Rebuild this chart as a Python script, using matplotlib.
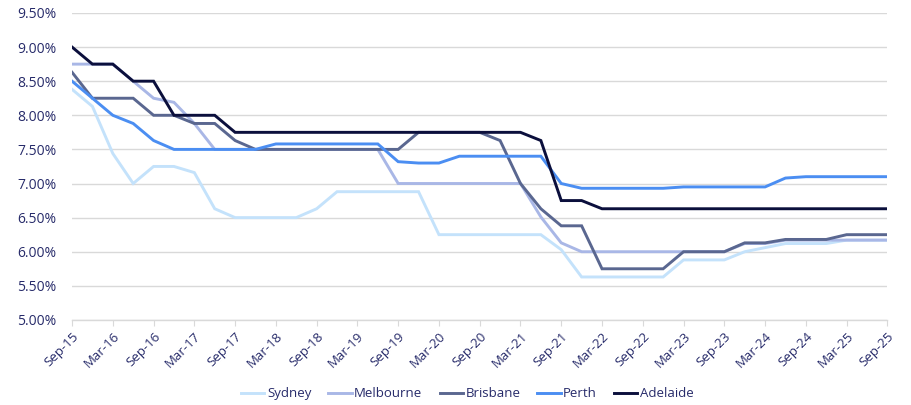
import numpy as np
from matplotlib import pyplot as plt
from matplotlib.ticker import FuncFormatter

# Quarterly rates, Sep-15 through Sep-25 (41 quarters)
sydney = [8.38, 8.13, 7.44, 7.00, 7.25, 7.25, 7.16, 6.63, 6.50, 6.50,
		  6.50, 6.50, 6.63, 6.88, 6.88, 6.88, 6.88, 6.88, 6.25, 6.25,
		  6.25, 6.25, 6.25, 6.25, 6.03, 5.63, 5.63, 5.63, 5.63, 5.63,
		  5.88, 5.88, 5.88, 6.00, 6.06, 6.12, 6.12, 6.12, 6.17, 6.17, 6.17]
melbourne = [8.75, 8.75, 8.75, 8.50, 8.25, 8.19, 7.88, 7.50, 7.50, 7.50,
			 7.50, 7.50, 7.50, 7.50, 7.50, 7.50, 7.00, 7.00, 7.00, 7.00,
			 7.00, 7.00, 7.00, 6.51, 6.13, 6.00, 6.00, 6.00, 6.00, 6.00,
			 6.00, 6.00, 6.00, 6.12, 6.12, 6.17, 6.17, 6.17, 6.17, 6.17, 6.17]
brisbane = [8.63, 8.25, 8.25, 8.25, 8.00, 8.00, 7.88, 7.88, 7.63, 7.50,
			7.50, 7.50, 7.50, 7.50, 7.50, 7.50, 7.50, 7.75, 7.75, 7.75,
			7.75, 7.63, 7.00, 6.63, 6.38, 6.38, 5.75, 5.75, 5.75, 5.75,
			6.00, 6.00, 6.00, 6.13, 6.13, 6.18, 6.18, 6.18, 6.25, 6.25, 6.25]
perth = [8.50, 8.25, 8.00, 7.88, 7.63, 7.50, 7.50, 7.50, 7.50, 7.50,
		 7.58, 7.58, 7.58, 7.58, 7.58, 7.58, 7.32, 7.30, 7.30, 7.40,
		 7.40, 7.40, 7.40, 7.40, 7.00, 6.93, 6.93, 6.93, 6.93, 6.93,
		 6.95, 6.95, 6.95, 6.95, 6.95, 7.08, 7.10, 7.10, 7.10, 7.10, 7.10]
adelaide = [9.00, 8.75, 8.75, 8.50, 8.50, 8.00, 8.00, 8.00, 7.75, 7.75,
			7.75, 7.75, 7.75, 7.75, 7.75, 7.75, 7.75, 7.75, 7.75, 7.75,
			7.75, 7.75, 7.75, 7.63, 6.75, 6.75, 6.63, 6.63, 6.63, 6.63,
			6.63, 6.63, 6.63, 6.63, 6.63, 6.63, 6.63, 6.63, 6.63, 6.63, 6.63]

tick_labels = ['Sep-15', 'Mar-16', 'Sep-16', 'Mar-17', 'Sep-17', 'Mar-18',
			   'Sep-18', 'Mar-19', 'Sep-19', 'Mar-20', 'Sep-20', 'Mar-21',
			   'Sep-21', 'Mar-22', 'Sep-22', 'Mar-23', 'Sep-23', 'Mar-24',
			   'Sep-24', 'Mar-25', 'Sep-25']

cities = ['Sydney', 'Melbourne', 'Brisbane', 'Perth', 'Adelaide']
colours = ['#C4E2FB', '#A9B7E6', '#5A6790', '#4B8EF2', '#0B0F3C']
text_col = '#272B6A'

plt.rcParams['font.family'] = ['Open Sans', 'DejaVu Sans']

fig = plt.figure(figsize=(9.12, 4.05), dpi=100)
ax = fig.add_axes([0.079, 0.21, 0.894, 0.758])

X = np.arange(len(sydney))
for name, series, col in zip(cities, [sydney, melbourne, brisbane, perth, adelaide], colours):
	ax.plot(X, series, color=col, lw=2.1, label=name, solid_joinstyle='miter')

# Axes ranges and grid
ax.set_xlim(0, len(X) - 1)
ax.set_ylim(5.0, 9.5)
ax.set_yticks(np.arange(5.0, 9.51, 0.5))
ax.yaxis.set_major_formatter(FuncFormatter(lambda v, p: '%.2f%%' % v))
ax.grid(axis='y', color='#D9D9D9', lw=1)
ax.set_axisbelow(True)

ax.set_xticks(np.arange(0, len(X), 2))
ax.set_xticklabels(tick_labels, rotation=45, ha='right', rotation_mode='anchor')

for s in ['top', 'right', 'left']:
	ax.spines[s].set_visible(False)
ax.spines['bottom'].set_color('#D9D9D9')
ax.spines['bottom'].set_linewidth(1)

ax.tick_params(axis='y', length=0, pad=11, labelsize=10, labelcolor=text_col)
ax.tick_params(axis='x', length=4, color='#D9D9D9', pad=3, labelsize=9.5, labelcolor=text_col)

leg = ax.legend(loc='center', bbox_to_anchor=(0.485, -0.24), ncol=5, frameon=False,
				fontsize=9.5, handlelength=1.75, handletextpad=0.2, columnspacing=1.3)
for t in leg.get_texts():
	t.set_color(text_col)

fig.savefig('out.png', dpi=100)
